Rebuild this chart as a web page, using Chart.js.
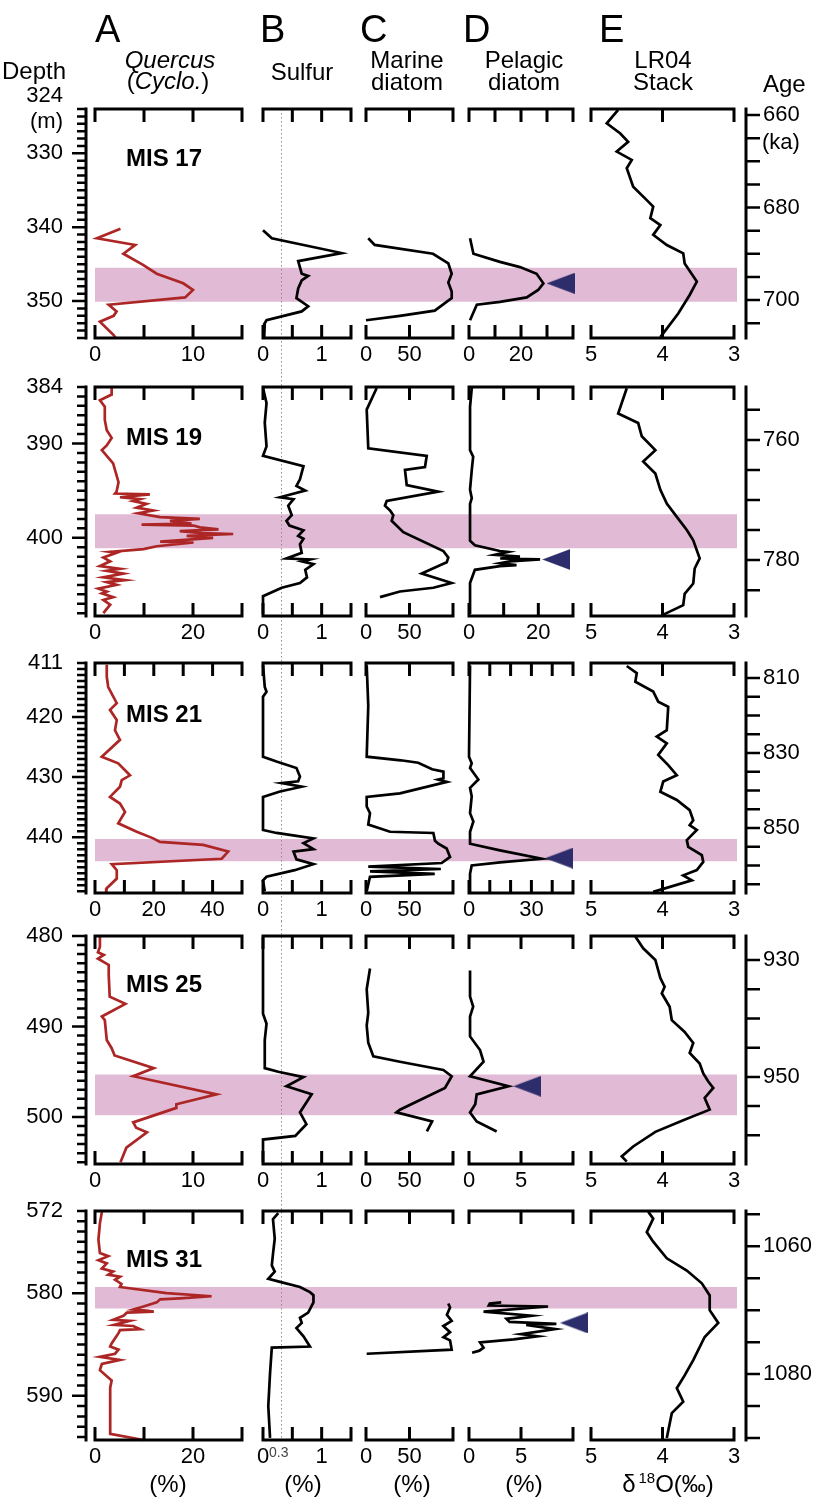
<!DOCTYPE html>
<html>
<head>
<meta charset="utf-8">
<script src="https://cdn.jsdelivr.net/npm/chart.js@4.4.0/dist/chart.umd.min.js"></script>
<style>
  html, body { margin: 0; padding: 0; background: #fff; }
  #fig { position: relative; width: 816px; height: 1504px; overflow: hidden; font-family: "Liberation Sans", Arial, sans-serif; color: #000; }
  #fig canvas { position: absolute; }
  .t { position: absolute; line-height: 1; white-space: nowrap; }
</style>
</head>
<body>
<div id="fig"></div>
<script>
// ---- data: [depth (m), value] ; LR04 is [age (ka), d18O] ----
var rowNames = ['MIS 17', 'MIS 19', 'MIS 21', 'MIS 25', 'MIS 31'];
var depthRange = [[324, 355], [384, 408.3], [411, 449.3], [480, 505.2], [572, 594.3]];
var ageRange = [[658.7, 708.2], [751.2, 789.3], [806.0, 867.3], [925.9, 964.9], [1054.5, 1090.3]];
var ageLabels = [[660, 680, 700], [760, 780], [810, 830, 850], [930, 950], [1060, 1080]];
var bands = [[345.5, 350.1], [397.5, 401.1], [440.3, 444.0], [495.3, 499.8], [579.4, 581.5]];
// arrows in pelagic column: [depth, value]
var arrows = [[347.6, 35.2], [402.3, 25.2], [443.5, 43.3], [496.6, 5.6], [582.9, 10.1]];

var quercusAxis = [[0, 15, 5], [0, 30, 10], [0, 50, 10], [0, 15, 5], [0, 30, 10]];
var quercusLabels = [[0, 10], [0, 20], [0, 20, 40], [0, 10], [0, 20]];
var sulfurAxis = [0, 1.5, 0.5], sulfurLabels = [0, 1], sulfurRef = 0.3;
var marineAxis = [0, 100, 50], marineLabels = [0, 50];
var pelagicAxis = [[0, 40, 10], [0, 30, 10], [0, 50, 10], [0, 10, 5], [0, 10, 5]];
var pelagicLabels = [[0, 20], [0, 20], [0, 30], [0, 5], [0, 5]];
var lr04Axis = [3, 5, 1], lr04Labels = [5, 4, 3];

var quercus17 = [[340.2,2.6],[341.5,0.2],[342.4,4.1],[343.6,2.9],[345.1,4.9],[346.3,6.3],[347.6,9.0],[348.5,10.0],[349.5,9.2],[350.5,1.4],[351.4,2.2],[352.0,1.9],[352.8,0.5],[354.6,1.9],[355,2.1]];
var quercus19 = [[384.1,3.4],[384.8,3.4],[385.4,1.0],[386.1,2.0],[387.5,2.0],[388.6,2.4],[389.4,3.4],[390.2,2.4],[390.7,1.4],[392.1,3.7],[394.1,4.8],[395.1,4.4],[395.3,4.1],[395.4,11.2],[395.7,5.1],[395.9,9.2],[396.1,7.8],[396.4,10.5],[396.8,8.5],[397.1,11.9],[397.4,8.8],[397.8,13.3],[398.0,21.4],[398.2,15.3],[398.5,19.7],[398.6,9.5],[398.7,20.1],[398.9,21.4],[399.1,25.2],[399.3,17.3],[399.5,21.8],[399.6,28.2],[399.8,18.7],[400.0,24.1],[400.4,13.3],[400.5,20.1],[400.9,12.6],[401.2,9.9],[401.5,3.1],[401.6,4.4],[402.1,1.7],[402.5,3.1],[403.0,1.0],[403.3,5.1],[403.5,2.4],[403.8,5.8],[404.2,1.7],[404.5,6.1],[404.7,2.4],[405.0,4.4],[405.4,0.7],[405.7,2.4],[405.9,1.4],[406.3,3.7],[406.6,1.7],[407.1,3.1],[408.0,1.7]];
var quercus21 = [[411.3,4.0],[413.3,4.0],[415.0,4.5],[417.7,7.4],[418.8,5.1],[420.5,7.4],[422.2,6.8],[423.8,8.5],[426.6,2.3],[427.7,7.9],[429.7,11.9],[430.5,9.1],[431.6,8.5],[433.3,5.1],[434.4,8.5],[435.8,10.2],[437.7,7.9],[439.1,14.2],[440.2,19.8],[440.8,22.1],[441.3,36.8],[442.4,45.3],[443.6,43.1],[444.5,5.7],[445.5,7.4],[446.9,7.4],[448.5,4.0],[449.2,3.8]];
var quercus25 = [[480.1,0.5],[481.2,0.5],[481.8,0.3],[482.1,0.9],[482.5,0.3],[483.2,1.4],[484.3,1.4],[486.7,1.5],[487.5,3.1],[488.9,0.7],[489.3,1.0],[491.5,1.2],[492.4,1.7],[493.2,2.0],[494.6,6.0],[495.5,3.9],[497.5,12.4],[498.6,8.3],[499.0,8.3],[500.6,3.9],[501.2,4.2],[501.7,5.3],[503.4,3.2],[505.0,2.6]];
var quercus31 = [[572.1,1.4],[573.2,1.0],[574.8,0.7],[576.1,1.0],[576.4,2.7],[576.8,0.7],[577.1,2.4],[577.6,1.4],[577.9,3.7],[578.2,2.7],[578.4,5.1],[578.7,4.1],[579.1,5.4],[579.4,5.1],[580.0,14.6],[580.3,23.8],[580.5,17.3],[580.6,13.3],[580.9,12.6],[581.3,9.9],[581.6,7.8],[581.7,10.5],[581.8,12.0],[581.9,6.5],[582.2,5.8],[582.6,3.7],[582.7,7.1],[583.1,3.9],[583.2,7.8],[583.5,9.2],[583.6,5.1],[583.9,4.8],[584.4,4.1],[584.9,3.4],[585.2,3.1],[585.5,4.8],[585.9,4.1],[586.2,1.0],[586.5,5.1],[586.9,1.4],[587.5,1.0],[588.5,3.4],[589.2,3.1],[593.7,3.1],[594.3,9.9]];

var sulfur17 = [[340.4,0.0],[341.5,0.15],[343.5,1.34],[344.6,0.60],[346.3,0.66],[346.6,0.77],[347.2,0.66],[348.3,0.60],[349.6,0.57],[350.7,0.77],[351.4,0.66],[352.6,0.06],[353.0,0.03],[355,0.02]];
var sulfur19 = [[384.1,0],[385.7,0.06],[387.8,0.03],[390.3,0.06],[391.3,0],[392.4,0.69],[393.8,0.63],[394.5,0.57],[395.0,0.72],[395.7,0.29],[395.9,0.52],[396.6,0.43],[397.6,0.49],[398.2,0.40],[398.7,0.45],[399.2,0.69],[399.8,0.60],[400.1,0.69],[400.7,0.63],[401.6,0.66],[402.2,0.40],[402.3,0.80],[402.5,0.66],[402.8,0.86],[403.4,0.72],[404.2,0.75],[404.8,0.63],[405.3,0.32],[406.2,0],[408.1,0]];
var sulfur21 = [[411.3,0],[415.0,0.03],[415.8,0.06],[416.6,0],[426.6,0],[427.4,0.23],[428.5,0.57],[429.9,0.63],[430.7,0.60],[431.0,0.32],[431.6,0.66],[432.4,0.29],[433.3,0],[438.8,0],[439.3,0.23],[440.2,0.86],[441.0,0.69],[442.0,0.86],[442.4,0.52],[443.7,0.57],[444.5,0.86],[445.5,0.54],[446.6,0.06],[447.2,0],[449.0,0.03]];
var sulfur25 = [[480.1,0],[488.6,0],[489.7,0.06],[491.5,0.03],[494.6,0.03],[495.0,0.26],[495.6,0.69],[496.6,0.40],[497.5,0.83],[499.5,0.63],[500.8,0.74],[502.1,0.55],[502.5,0],[505.0,0]];
var sulfur31 = [[572.2,0.26],[572.8,0.17],[574.7,0.2],[576.2,0.17],[577.3,0.15],[577.9,0.2],[578.6,0.09],[578.9,0.29],[579.4,0.63],[579.9,0.80],[580.2,0.86],[580.9,0.86],[581.9,0.77],[582.4,0.63],[582.9,0.66],[583.4,0.57],[584.2,0.69],[585.2,0.80],[585.3,0.15],[587.8,0.12],[591.0,0.09],[594.1,0.12]];

var marine17 = [[341.5,2.6],[342.4,10],[343.6,77],[344.9,94.6],[346.3,98.5],[347.5,94.6],[348.7,98.5],[349.6,98.5],[351.3,79],[352.0,39],[352.6,0]];
var marine19 = [[384.1,12.3],[386.4,0.8],[390.5,2.6],[391.3,69.8],[392.5,67.8],[392.8,44.8],[394.4,46.8],[395.1,83.1],[396.1,23.8],[396.6,21.8],[397.1,27.6],[397.6,31.4],[398.2,29.5],[399.4,42.9],[401.4,88.9],[402.1,94.6],[402.6,92.8],[403.8,64],[404.8,98.5],[405.3,77.4],[405.7,39],[406.3,16.1]];
var marine21 = [[411.4,0.8],[418.1,2.6],[426.6,0.8],[427.2,40],[427.6,60],[428.7,76],[429.1,89],[430.2,89],[430.4,83],[430.8,93],[432.7,39],[433.3,0.8],[434.9,0.8],[436.0,4.6],[437.9,2.6],[439.1,27.6],[439.3,77.4],[440.6,79.3],[441.1,83.1],[441.9,92.7],[443.3,96.6],[444.3,87],[444.9,2.6],[445.3,86],[445.7,4.6],[446.1,79],[446.6,4.6],[449.0,0.8]];
var marine25 = [[483.6,4.6],[485.9,0.8],[488.5,2.6],[489.9,0.8],[491.8,2.6],[493.3,8.4],[493.9,39],[494.8,88.9],[495.5,98.5],[496.8,90.8],[499.2,39],[499.5,35],[500.5,76],[501.6,70]];
var marine31 = [[581.0,94.6],[581.4,96.6],[582.1,93],[582.7,98.5],[583.2,88.9],[583.8,96.6],[584.3,89],[584.6,96.6],[585.5,98.5],[585.9,0.8]];

var pelagic17 = [[341.5,0.4],[343.6,1.7],[344.7,11.9],[345.4,19.6],[346.3,26],[347.6,28.6],[348.5,26.6],[349.5,22.2],[350.1,11.9],[350.5,3.0],[352.6,0.4]];
var pelagic19 = [[384.1,0.8],[386.1,0.3],[390.7,0.3],[391.4,1.2],[392.8,0.8],[394.9,0.3],[395.8,0.8],[396.4,0.3],[400.3,0.3],[400.8,1.7],[401.4,8.9],[401.5,11.3],[401.8,7.5],[402.0,14.7],[402.2,9],[402.3,20.5],[402.5,11.8],[402.7,9],[402.9,13.7],[403.0,8.9],[403.4,1.7],[404.8,0.3],[408.1,0.3]];
var pelagic21 = [[411.4,0.5],[426.6,0],[427.7,1.3],[428.5,0.5],[430.4,4.5],[431.8,0.5],[433.2,1.3],[436.0,0.5],[437.4,2.1],[439.1,0.5],[441.1,0.5],[442.2,14.9],[443.6,34.9],[444.2,14.9],[444.7,1.3],[446.1,0.5],[449.3,0.5]];
var pelagic25 = [[483.8,0.1],[486.7,0.1],[487.8,0.4],[488.9,0.1],[491.1,0.1],[492.6,1.06],[493.9,1.4],[495.5,0.1],[496.6,3.8],[497.5,0.74],[498.6,0.6],[499.5,0.1],[500.5,0.74],[501.6,2.66]];
var pelagic31 = [[580.9,3.1],[581.0,2.0],[581.2,1.9],[581.3,7.6],[581.8,1.4],[582.2,6.0],[582.5,3.6],[582.8,3.9],[583.0,8.4],[583.1,5.5],[583.5,8.3],[584.0,5.0],[584.2,6.6],[584.5,4.3],[584.8,1.06],[585.3,1.4],[585.6,1.0],[585.8,0.3]];

var lr04_17 = [[658.9,4.62],[661.8,4.78],[664.0,4.59],[665.8,4.48],[667.9,4.64],[669.7,4.43],[671.5,4.50],[675.5,4.41],[678.4,4.22],[679.8,4.13],[682.3,4.17],[683.8,4.03],[685.9,4.13],[688.1,3.94],[689.9,3.71],[692.1,3.69],[696.0,3.52],[698.9,3.62],[702.9,3.78],[708.0,4.03]];
var lr04_19 = [[751.4,4.50],[755.6,4.62],[757.2,4.34],[759.4,4.29],[761.7,4.10],[763.6,4.27],[765.6,4.10],[768.3,4.03],[770.6,3.94],[772.8,3.80],[775.0,3.66],[776.7,3.57],[779.7,3.48],[781.4,3.55],[783.9,3.57],[785.6,3.69],[787.5,3.71],[789.2,4.01]];
var lr04_21 = [[806.8,4.50],[808.7,4.36],[811.0,4.38],[813.6,4.13],[816.3,4.06],[817.7,3.92],[823.9,3.94],[825.6,4.08],[827.4,3.94],[830.5,4.06],[833.2,3.92],[835.9,3.80],[837.6,3.99],[840.3,4.03],[842.5,3.80],[845.2,3.62],[847.9,3.57],[849.2,3.62],[850.5,3.52],[853.2,3.66],[855.0,3.64],[857.2,3.45],[859.0,3.43],[861.2,3.52],[862.6,3.71],[863.9,3.59],[867.0,4.13]];
var lr04_25 = [[926.0,4.38],[928.0,4.27],[930.0,4.10],[933.1,4.03],[934.6,3.97],[935.7,4.01],[938.0,3.90],[940.3,3.87],[942.3,3.69],[944.2,3.57],[945.9,3.62],[947.7,3.48],[949.4,3.43],[950.8,3.36],[951.9,3.29],[953.6,3.41],[955.6,3.34],[957.4,3.71],[959.4,4.10],[961.9,4.41],[963.6,4.57],[964.5,4.50]];
var lr04_31 = [[1054.6,4.20],[1055.7,4.13],[1057.8,4.22],[1059.3,4.13],[1061.9,3.94],[1063.8,3.66],[1065.8,3.45],[1067.7,3.34],[1070.0,3.34],[1072.0,3.22],[1074.2,3.41],[1077.8,3.57],[1080.2,3.69],[1082.2,3.80],[1084.3,3.71],[1086.1,3.87],[1090.0,3.94]];

var series = [
  [quercus17, sulfur17, marine17, pelagic17, lr04_17],
  [quercus19, sulfur19, marine19, pelagic19, lr04_19],
  [quercus21, sulfur21, marine21, pelagic21, lr04_21],
  [quercus25, sulfur25, marine25, pelagic25, lr04_25],
  [quercus31, sulfur31, marine31, pelagic31, lr04_31]
];

// ---- layout (pixels) ----
var rowTop = [109, 387, 663, 936, 1211];
var rowBot = [338, 616, 893, 1164, 1440];
var colLeft = [95, 263, 366, 469, 591];
var colRight = [242, 351, 453, 573, 734];
var depthAxisX = 86, ageAxisX = 746;
var red = '#ad2626', bandColor = '#e1bad5', arrowColor = '#2d2d6c';

Chart.defaults.font.family = '"Liberation Sans", Arial, sans-serif';
Chart.defaults.font.size = 22;
Chart.defaults.color = '#000';

var fig = document.getElementById('fig');

function addCanvas(left, top, w, h) {
  var c = document.createElement('canvas');
  c.width = w; c.height = h;
  c.style.left = left + 'px'; c.style.top = top + 'px';
  c.style.width = w + 'px'; c.style.height = h + 'px';
  fig.appendChild(c);
  return c;
}

function txt(html, x, base, size, align, extra) {
  var d = document.createElement('div');
  d.className = 't';
  d.innerHTML = html;
  d.style.fontSize = size + 'px';
  d.style.left = x + 'px';
  d.style.top = (base - 0.847 * size) + 'px';
  if (align === 'center') d.style.transform = 'translateX(-50%)';
  if (align === 'right') d.style.transform = 'translateX(-100%)';
  if (extra) d.style.cssText += ';' + extra;
  fig.appendChild(d);
}

// depth axis on the left, age axis on the right, ticks pointing outward
var rowAxes = {
  id: 'rowAxes',
  afterDraw: function (chart) {
    var a = chart.chartArea, ctx = chart.ctx;
    var depth = chart.scales.y, age = chart.scales.yAge;
    var xl = a.left - (colLeft[0] - depthAxisX);
    var xr = ageAxisX;
    ctx.save();
    ctx.strokeStyle = '#000';
    ctx.lineWidth = 3;
    ctx.beginPath();
    ctx.moveTo(xl, a.top - 1.5); ctx.lineTo(xl, a.bottom + 1.5);
    ctx.moveTo(xr, a.top - 1.5); ctx.lineTo(xr, a.bottom + 1.5);
    ctx.stroke();
    ctx.lineWidth = 2.5;
    ctx.beginPath();
    depth.ticks.forEach(function (t) {
      var y = depth.getPixelForValue(t.value);
      var len = t.value % 10 === 0 ? 14 : 9;
      ctx.moveTo(xl, y); ctx.lineTo(xl - len, y);
    });
    age.ticks.forEach(function (t) {
      var y = age.getPixelForValue(t.value);
      ctx.moveTo(xr, y); ctx.lineTo(xr + 14, y);
    });
    ctx.stroke();
    ctx.restore();
  }
};

// open frame (top and bottom lines with inward ticks) and the 0.3 dotted line
var panelFrame = {
  id: 'panelFrame',
  beforeDatasetsDraw: function (chart, args, o) {
    if (o.ref === undefined) return;
    var a = chart.chartArea, ctx = chart.ctx;
    var x = Math.round(chart.scales.x.getPixelForValue(o.ref)) + 0.5;
    ctx.save();
    ctx.strokeStyle = '#8c8c8c';
    ctx.lineWidth = 1;
    ctx.setLineDash([1.5, 2.5]);
    ctx.beginPath();
    ctx.moveTo(x, o.clipTop ? a.top : 0);
    ctx.lineTo(x, o.clipBottom ? a.bottom : chart.height);
    ctx.stroke();
    ctx.restore();
  },
  afterDatasetsDraw: function (chart) {
    var a = chart.chartArea, ctx = chart.ctx, s = chart.scales.x;
    ctx.save();
    ctx.strokeStyle = '#000';
    ctx.lineWidth = 3;
    ctx.beginPath();
    ctx.moveTo(a.left - 1.5, a.top); ctx.lineTo(a.right + 1.5, a.top);
    ctx.moveTo(a.left - 1.5, a.bottom); ctx.lineTo(a.right + 1.5, a.bottom);
    s.ticks.forEach(function (t) {
      var x = s.getPixelForValue(t.value);
      ctx.moveTo(x, a.top); ctx.lineTo(x, a.top + 13);
      ctx.moveTo(x, a.bottom); ctx.lineTo(x, a.bottom - 13);
    });
    ctx.stroke();
    ctx.restore();
  }
};

function arrowImage(w, h) {
  var c = document.createElement('canvas');
  c.width = w; c.height = h;
  var g = c.getContext('2d');
  g.fillStyle = arrowColor;
  g.beginPath();
  g.moveTo(0, h / 2); g.lineTo(w, 0); g.lineTo(w, h);
  g.closePath();
  g.fill();
  return c;
}
var arrowStyle = arrowImage(28, 21);

function drawRow(r) {
  // padding must exceed label half-height + tick padding, otherwise the axis shrinks
  var pad = 62;
  var cv = addCanvas(0, rowTop[r] - pad, 816, rowBot[r] - rowTop[r] + 2 * pad);
  new Chart(cv, {
    type: 'line',
    data: {
      datasets: [
        { data: [{ x: 0, y: bands[r][0] }, { x: 1, y: bands[r][0] }], borderColor: 'rgba(0,0,0,0)', pointRadius: 0, fill: false },
        { data: [{ x: 0, y: bands[r][1] }, { x: 1, y: bands[r][1] }], borderColor: 'rgba(0,0,0,0)', pointRadius: 0, fill: '-1', backgroundColor: bandColor }
      ]
    },
    options: {
      responsive: false, animation: false, events: [],
      layout: { padding: { top: pad, bottom: pad, left: 0, right: 0 } },
      plugins: { legend: { display: false }, tooltip: { enabled: false } },
      scales: {
        x: { type: 'linear', display: false, min: 0, max: 1 },
        y: {
          type: 'linear', position: 'left', reverse: true,
          min: depthRange[r][0], max: depthRange[r][1],
          afterFit: function (s) { s.width = colLeft[0]; },
          grid: { display: false, drawTicks: false }, border: { display: false },
          ticks: {
            stepSize: 1, autoSkip: false, includeBounds: false, padding: 32,
            callback: function (v) {
              if (v === depthRange[r][0]) return r === 0 ? [String(v), '(m)'] : String(v);
              return v % 10 === 0 ? String(v) : '';
            }
          }
        },
        yAge: {
          type: 'linear', position: 'right', reverse: true,
          min: ageRange[r][0], max: ageRange[r][1],
          afterFit: function (s) { s.width = 816 - colRight[4] - 3; },
          grid: { display: false, drawTicks: false }, border: { display: false },
          ticks: {
            stepSize: 5, autoSkip: false, includeBounds: false, padding: 26,
            callback: function (v) { return ageLabels[r].indexOf(v) >= 0 ? String(v) : ''; }
          }
        }
      }
    },
    plugins: [rowAxes]
  });
}

function axisFor(r, c) {
  if (c === 0) return [quercusAxis[r], quercusLabels[r]];
  if (c === 1) return [sulfurAxis, sulfurLabels];
  if (c === 2) return [marineAxis, marineLabels];
  if (c === 3) return [pelagicAxis[r], pelagicLabels[r]];
  return [lr04Axis, lr04Labels];
}

function drawPanel(r, c) {
  var padT = 15;
  var padB = r < 4 ? rowTop[r + 1] - rowBot[r] - padT : 60;
  var w = colRight[c] - colLeft[c] + 40;
  var h = rowBot[r] - rowTop[r] + padT + padB;
  var cv = addCanvas(colLeft[c] - 20, rowTop[r] - padT, w, h);
  var ax = axisFor(r, c), rng = ax[0], labels = ax[1];
  var yr = c === 4 ? ageRange[r] : depthRange[r];

  var datasets = [{
    data: series[r][c].map(function (p) { return { x: p[1], y: p[0] }; }),
    borderColor: c === 0 ? red : '#000',
    borderWidth: 2.7, pointRadius: 0, showLine: true, tension: 0, clip: 3
  }];
  if (c === 3) {
    datasets.push({
      data: [{ x: arrows[r][1], y: arrows[r][0] }],
      pointStyle: arrowStyle, pointRadius: 14, clip: false, showLine: false
    });
  }

  var frameOpts = {};
  if (c === 1) frameOpts = { ref: sulfurRef, clipTop: r === 0, clipBottom: r === 4 };

  new Chart(cv, {
    type: 'scatter',
    data: { datasets: datasets },
    options: {
      responsive: false, animation: false, events: [],
      layout: { padding: { left: 20, right: 20, top: padT, bottom: 0 } },
      plugins: { legend: { display: false }, tooltip: { enabled: false }, panelFrame: frameOpts },
      scales: {
        x: {
          type: 'linear', position: 'bottom', min: rng[0], max: rng[1], reverse: c === 4,
          afterFit: function (s) { s.height = padB; },
          grid: { display: false, drawTicks: false }, border: { display: false },
          ticks: {
            stepSize: rng[2], autoSkip: false, includeBounds: false, maxRotation: 0, padding: 4,
            callback: function (v) { return labels.indexOf(v) >= 0 ? String(v) : ''; }
          }
        },
        y: { type: 'linear', display: false, reverse: true, min: yr[0], max: yr[1] }
      }
    },
    plugins: [panelFrame]
  });
}

var r, c;
for (r = 0; r < 5; r++) drawRow(r);
for (r = 0; r < 5; r++) for (c = 0; c < 5; c++) drawPanel(r, c);

// ---- texts ----
['A', 'B', 'C', 'D', 'E'].forEach(function (l, i) {
  txt(l, [95, 260, 360, 463, 599][i], 42, 38, 'left');
});
txt('Depth', 2, 79, 24, 'left');
txt('<i>Quercus</i>', 170, 68, 24, 'center');
txt('(<i>Cyclo.</i>)', 168, 89, 24, 'center');
txt('Sulfur', 302, 80, 24, 'center');
txt('Marine', 407, 68, 24, 'center');
txt('diatom', 407, 90, 24, 'center');
txt('Pelagic', 524, 68, 24, 'center');
txt('diatom', 524, 90, 24, 'center');
txt('LR04', 663, 68, 24, 'center');
txt('Stack', 663, 90, 24, 'center');
txt('Age', 763, 92, 24, 'left');
txt('(ka)', 762, 150, 22, 'left');

var misBase = [166, 445, 722, 992, 1267];
rowNames.forEach(function (n, i) {
  txt(n, 126, misBase[i], 24, 'left', 'font-weight:bold');
});

txt('0.3', 269, 1457, 14, 'left', 'color:#444');
[168, 303, 412, 524].forEach(function (x) { txt('(%)', x, 1492, 24, 'center'); });
txt('&delta;<span style="font-size:15px;position:relative;top:-9px;margin-left:3px">18</span>O(&permil;)', 668, 1492, 24, 'center');
</script>
</body>
</html>
